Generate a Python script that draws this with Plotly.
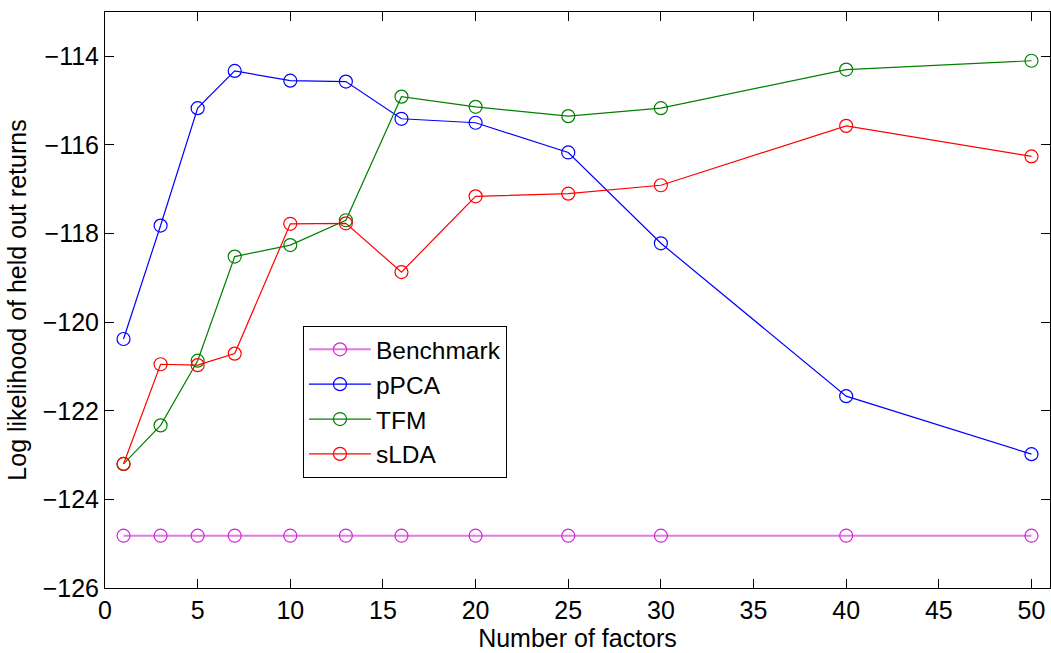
import plotly.graph_objects as go

# Number of latent factors evaluated
factors = [1, 3, 5, 7, 10, 13, 16, 20, 25, 30, 40, 50]

# Held-out log likelihood per model
benchmark = [-124.82] * len(factors)
ppca = [-120.38, -117.82, -115.17, -114.33, -114.55, -114.57, -115.41, -115.50, -116.17, -118.22, -121.67, -122.98]
tfm = [-123.20, -122.33, -120.87, -118.52, -118.26, -117.70, -114.91, -115.14, -115.35, -115.17, -114.30, -114.10]
slda = [-123.20, -120.95, -120.97, -120.71, -117.78, -117.77, -118.87, -117.16, -117.10, -116.91, -115.57, -116.26]

x_ticks = [0, 5, 10, 15, 20, 25, 30, 35, 40, 45, 50]
y_ticks = [-126, -124, -122, -120, -118, -116, -114]

FONT = "Liberation Sans, Arial, Helvetica, sans-serif"

series = [
    ("Benchmark", benchmark, "rgb(226,122,226)", "rgb(205,40,205)", 2),
    ("pPCA", ppca, "rgb(0,0,255)", "rgb(0,0,255)", 1.2),
    ("TFM", tfm, "rgb(0,128,0)", "rgb(0,128,0)", 1.2),
    ("sLDA", slda, "rgb(255,0,0)", "rgb(255,0,0)", 1.2),
]

fig = go.Figure()
for name, vals, lcol, mcol, lw in series:
    fig.add_trace(go.Scatter(
        x=factors, y=vals, name=name, mode="lines+markers",
        line=dict(color=lcol, width=lw),
        marker=dict(symbol="circle-open", size=13, color=mcol,
                    line=dict(width=1.2, color=mcol)),
    ))

axis_common = dict(
    showline=True, linecolor="black", linewidth=1, mirror="ticks",
    ticks="inside", ticklen=9, tickwidth=1, tickcolor="black",
    showgrid=False, zeroline=False,
    tickfont=dict(family=FONT, size=25, color="black"),
)

fig.update_xaxes(
    range=[0, 51], tickvals=x_ticks,
    title=dict(text="Number of factors", font=dict(family=FONT, size=25, color="black"), standoff=2),
    **axis_common,
)
fig.update_yaxes(
    range=[-126, -113], tickvals=y_ticks,
    title=dict(text="Log likelihood of held out returns", font=dict(family=FONT, size=25, color="black"), standoff=8),
    **axis_common,
)

fig.update_layout(
    width=1051, height=653,
    margin=dict(l=105, r=1, t=12, b=65),
    paper_bgcolor="white", plot_bgcolor="white",
    font=dict(family=FONT, size=25, color="black"),
    legend=dict(
        x=0.2095, y=0.455, xanchor="left", yanchor="top",
        bgcolor="white", bordercolor="black", borderwidth=1,
        font=dict(family=FONT, size=24.5, color="black"),
        tracegroupgap=0, itemwidth=62,
    ),
    showlegend=True,
)

fig.write_html("out.html")
